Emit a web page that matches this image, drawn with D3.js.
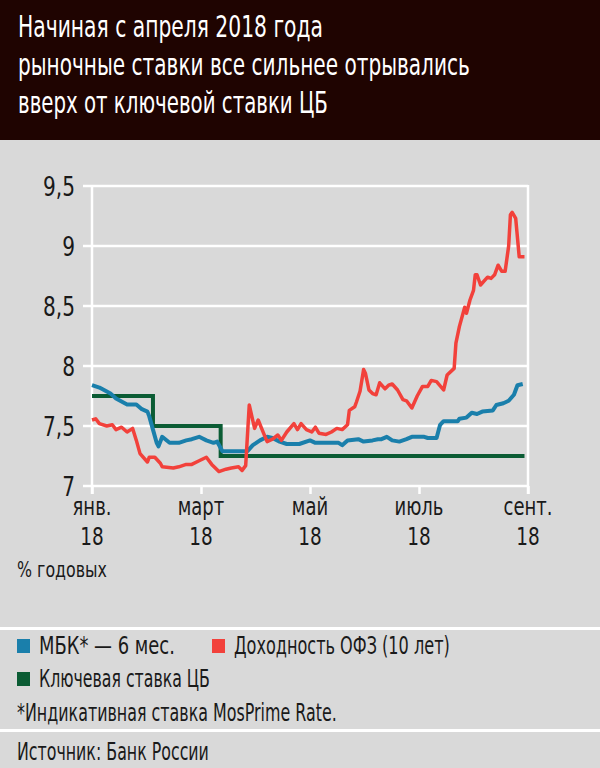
<!DOCTYPE html>
<html><head><meta charset="utf-8">
<script src="https://cdn.jsdelivr.net/npm/d3@7"></script>
<style>
html,body{margin:0;padding:0;background:#d9d9d9;}
svg{display:block;}
text{font-family:"Liberation Sans Narrow","DejaVu Sans Condensed","Roboto",sans-serif;fill:#1a1a1a;}
</style></head>
<body>
<script>
// ---------- DATA ----------
const titleLines = ["Начиная с апреля 2018 года", "рыночные ставки все сильнее отрывались", "вверх от ключевой ставки ЦБ"];
const monthTicks = ["2018-01-01", "2018-03-01", "2018-05-01", "2018-07-01", "2018-09-01"];
const monthLabels = ["янв.", "март", "май", "июль", "сент."];
const yearLabels = ["18", "18", "18", "18", "18"];
const yTicks = [7, 7.5, 8, 8.5, 9, 9.5];
const yTickLabels = ["7", "7,5", "8", "8,5", "9", "9,5"];

// МБК — 6 мес. (MosPrime)
const mbkSeries = [
 ["2018-01-01",7.84],["2018-01-05",7.82],["2018-01-11",7.77],["2018-01-14",7.73],["2018-01-20",7.68],
 ["2018-01-25",7.68],["2018-01-28",7.64],["2018-01-31",7.62],["2018-02-01",7.58],["2018-02-03",7.47],
 ["2018-02-05",7.36],["2018-02-06",7.33],["2018-02-08",7.41],["2018-02-12",7.36],["2018-02-17",7.36],
 ["2018-02-21",7.38],["2018-02-24",7.39],["2018-02-28",7.41],["2018-03-04",7.38],["2018-03-08",7.36],
 ["2018-03-10",7.37],["2018-03-13",7.29],["2018-03-17",7.29],["2018-03-23",7.29],["2018-03-27",7.29],
 ["2018-03-30",7.34],["2018-04-03",7.38],["2018-04-07",7.41],["2018-04-10",7.40],["2018-04-14",7.37],
 ["2018-04-18",7.35],["2018-04-25",7.35],["2018-05-01",7.38],["2018-05-04",7.36],["2018-05-17",7.36],
 ["2018-05-19",7.34],["2018-05-22",7.38],["2018-05-28",7.39],["2018-05-31",7.37],["2018-06-05",7.38],
 ["2018-06-08",7.39],["2018-06-10",7.39],["2018-06-13",7.41],["2018-06-16",7.38],["2018-06-20",7.37],
 ["2018-06-24",7.39],["2018-06-27",7.41],["2018-07-04",7.41],["2018-07-06",7.40],["2018-07-11",7.40],
 ["2018-07-13",7.51],["2018-07-15",7.54],["2018-07-23",7.54],["2018-07-24",7.56],["2018-07-28",7.57],
 ["2018-07-31",7.61],["2018-08-03",7.60],["2018-08-06",7.62],["2018-08-12",7.63],["2018-08-14",7.675],
 ["2018-08-18",7.69],["2018-08-21",7.71],["2018-08-24",7.76],["2018-08-26",7.84],["2018-08-29",7.85]
];
// Доходность ОФЗ (10 лет)
const ofzSeries = [
 ["2018-01-01",7.55],["2018-01-03",7.56],["2018-01-05",7.52],["2018-01-09",7.50],["2018-01-12",7.51],
 ["2018-01-14",7.47],["2018-01-17",7.49],["2018-01-20",7.45],["2018-01-23",7.48],["2018-01-25",7.38],
 ["2018-01-27",7.27],["2018-01-31",7.20],["2018-02-01",7.24],["2018-02-04",7.24],["2018-02-07",7.19],
 ["2018-02-08",7.16],["2018-02-14",7.15],["2018-02-17",7.16],["2018-02-21",7.18],["2018-02-24",7.18],
 ["2018-02-28",7.21],["2018-03-04",7.24],["2018-03-07",7.18],["2018-03-11",7.12],["2018-03-15",7.14],
 ["2018-03-18",7.15],["2018-03-22",7.16],["2018-03-24",7.13],["2018-03-26",7.17],["2018-03-28",7.675],
 ["2018-03-31",7.48],["2018-04-02",7.55],["2018-04-05",7.44],["2018-04-07",7.37],["2018-04-10",7.39],
 ["2018-04-13",7.425],["2018-04-15",7.38],["2018-04-18",7.45],["2018-04-22",7.52],["2018-04-24",7.47],
 ["2018-04-26",7.52],["2018-04-29",7.47],["2018-05-02",7.45],["2018-05-04",7.49],["2018-05-06",7.44],
 ["2018-05-10",7.43],["2018-05-13",7.45],["2018-05-16",7.48],["2018-05-19",7.47],["2018-05-22",7.51],
 ["2018-05-23",7.63],["2018-05-26",7.66],["2018-05-27",7.70],["2018-05-29",7.79],["2018-05-31",7.97],
 ["2018-06-01",7.94],["2018-06-03",7.80],["2018-06-05",7.77],["2018-06-07",7.76],["2018-06-09",7.86],
 ["2018-06-12",7.81],["2018-06-14",7.84],["2018-06-16",7.85],["2018-06-19",7.80],["2018-06-22",7.72],
 ["2018-06-24",7.71],["2018-06-27",7.65],["2018-06-30",7.75],["2018-07-03",7.83],["2018-07-06",7.83],
 ["2018-07-08",7.88],["2018-07-11",7.87],["2018-07-15",7.80],["2018-07-17",7.925],["2018-07-21",7.98],
 ["2018-07-22",8.19],["2018-07-24",8.33],["2018-07-27",8.49],["2018-07-28",8.44],["2018-07-30",8.55],
 ["2018-08-01",8.63],["2018-08-02",8.76],["2018-08-03",8.76],["2018-08-05",8.675],["2018-08-09",8.74],
 ["2018-08-11",8.73],["2018-08-13",8.76],["2018-08-15",8.84],["2018-08-17",8.79],["2018-08-19",8.79],
 ["2018-08-21",9.00],["2018-08-22",9.26],["2018-08-23",9.28],["2018-08-25",9.23],["2018-08-27",8.91],
 ["2018-08-30",8.91]
];
// Ключевая ставка ЦБ
const keyRateSeries = [
 ["2018-01-01",7.75],["2018-02-03",7.50],["2018-03-12",7.25],["2018-08-30",7.25]
];
const legendItems = [
 {label:"МБК* — 6 мес.", color:"#1a7fab"},
 {label:"Доходность ОФЗ (10 лет)", color:"#f2413b"},
 {label:"Ключевая ставка ЦБ", color:"#0b5c34"}
];
const unitLabel = "% годовых";
const footnote = "*Индикативная ставка MosPrime Rate.";
const source = "Источник: Банк России";

// ---------- DRAW ----------
const W = 600, H = 768;
const parse = d3.timeParse("%Y-%m-%d");
const svg = d3.select("body").append("svg").attr("width", W).attr("height", H);

// horizontally condense a text around anchor x so that it takes targetW px
function fitWidth(sel, targetW, ax) {
  const w = sel.node().getComputedTextLength();
  const s = targetW / w;
  sel.attr("transform", `translate(${ax},0) scale(${s},1) translate(${-ax},0)`);
}
function condense(sel, s, ax) {
  sel.attr("transform", `translate(${ax},0) scale(${s},1) translate(${-ax},0)`);
}

svg.append("rect").attr("width", W).attr("height", H).attr("fill", "#d9d9d9");
svg.append("rect").attr("width", W).attr("height", 140).attr("fill", "#1f0401");

const titleBase = [37, 75, 113];
const titleLen = [305, 452, 310];
titleLines.forEach((t, i) => {
  const tx = svg.append("text").attr("x", 18).attr("y", titleBase[i])
    .attr("font-size", 31).style("fill", "#ffffff").text(t);
  fitWidth(tx, titleLen[i], 18);
});

const x = d3.scaleTime().domain(monthTicks.map(parse)).range([92, 201, 310, 419, 528]);
const y = d3.scaleLinear().domain([7, 9.5]).range([486, 186]);

const grid = svg.append("g");
yTicks.forEach(v => {
  grid.append("line").attr("x1", 83).attr("x2", 528).attr("y1", y(v)).attr("y2", y(v))
    .attr("stroke", "#fff").attr("stroke-width", 2.5);
});
grid.append("line").attr("x1", 92).attr("x2", 92).attr("y1", y(9.5) - 1).attr("y2", 494)
  .attr("stroke", "#fff").attr("stroke-width", 2.5);
grid.append("line").attr("x1", 528).attr("x2", 528).attr("y1", y(9.5) - 1).attr("y2", 494)
  .attr("stroke", "#fff").attr("stroke-width", 2.5);

// x axis ticks
const xAxis = d3.axisBottom(x).tickValues(monthTicks.map(parse)).tickSize(8).tickFormat("");
const gx = svg.append("g").attr("transform", `translate(0,${y(7)})`).call(xAxis);
gx.select(".domain").remove();
gx.selectAll(".tick line").attr("stroke", "#fff").attr("stroke-width", 2.5);

monthTicks.forEach((m, i) => {
  const cx = x(parse(m));
  const t1 = svg.append("text").attr("x", cx).attr("y", 515).attr("text-anchor", "middle")
    .attr("font-size", 25).text(monthLabels[i]);
  condense(t1, 0.8, cx);
  const t2 = svg.append("text").attr("x", cx).attr("y", 545).attr("text-anchor", "middle")
    .attr("font-size", 25).text(yearLabels[i]);
  condense(t2, 0.82, cx);
});

// y labels
yTicks.forEach((v, i) => {
  const t = svg.append("text").attr("x", 75).attr("y", y(v) + 10).attr("text-anchor", "end")
    .attr("font-size", 26).text(yTickLabels[i]);
  condense(t, 0.86, 75);
});

// lines
const line = d3.line().x(d => x(parse(d[0]))).y(d => y(d[1]));
const stepLine = d3.line().x(d => x(parse(d[0]))).y(d => y(d[1])).curve(d3.curveStepAfter);
svg.append("path").attr("d", stepLine(keyRateSeries)).attr("fill", "none")
  .attr("stroke", legendItems[2].color).attr("stroke-width", 4);
svg.append("path").attr("d", line(mbkSeries)).attr("fill", "none")
  .attr("stroke", legendItems[0].color).attr("stroke-width", 4).attr("stroke-linejoin", "round");
svg.append("path").attr("d", line(ofzSeries)).attr("fill", "none")
  .attr("stroke", legendItems[1].color).attr("stroke-width", 3.5).attr("stroke-linejoin", "round");

// unit
const ut = svg.append("text").attr("x", 17).attr("y", 577).attr("font-size", 22).text(unitLabel);
fitWidth(ut, 90, 17);

// separators
svg.append("rect").attr("x", 0).attr("y", 627).attr("width", W).attr("height", 3).attr("fill", "#fff");
svg.append("rect").attr("x", 0).attr("y", 729).attr("width", W).attr("height", 3).attr("fill", "#fff");

// legend
const legPos = [{x:17, y:654, len:136}, {x:212, y:654, len:216}, {x:17, y:687, len:171}];
legendItems.forEach((it, i) => {
  const p = legPos[i];
  svg.append("rect").attr("x", p.x).attr("y", p.y - 15).attr("width", 13).attr("height", 14).attr("fill", it.color);
  const lt = svg.append("text").attr("x", p.x + 22).attr("y", p.y).attr("font-size", 24).text(it.label);
  fitWidth(lt, p.len, p.x + 22);
});
const ft = svg.append("text").attr("x", 17).attr("y", 721).attr("font-size", 24).text(footnote);
fitWidth(ft, 320, 17);
const st = svg.append("text").attr("x", 17).attr("y", 760).attr("font-size", 24).text(source);
fitWidth(st, 192, 17);
</script>
</body></html>
